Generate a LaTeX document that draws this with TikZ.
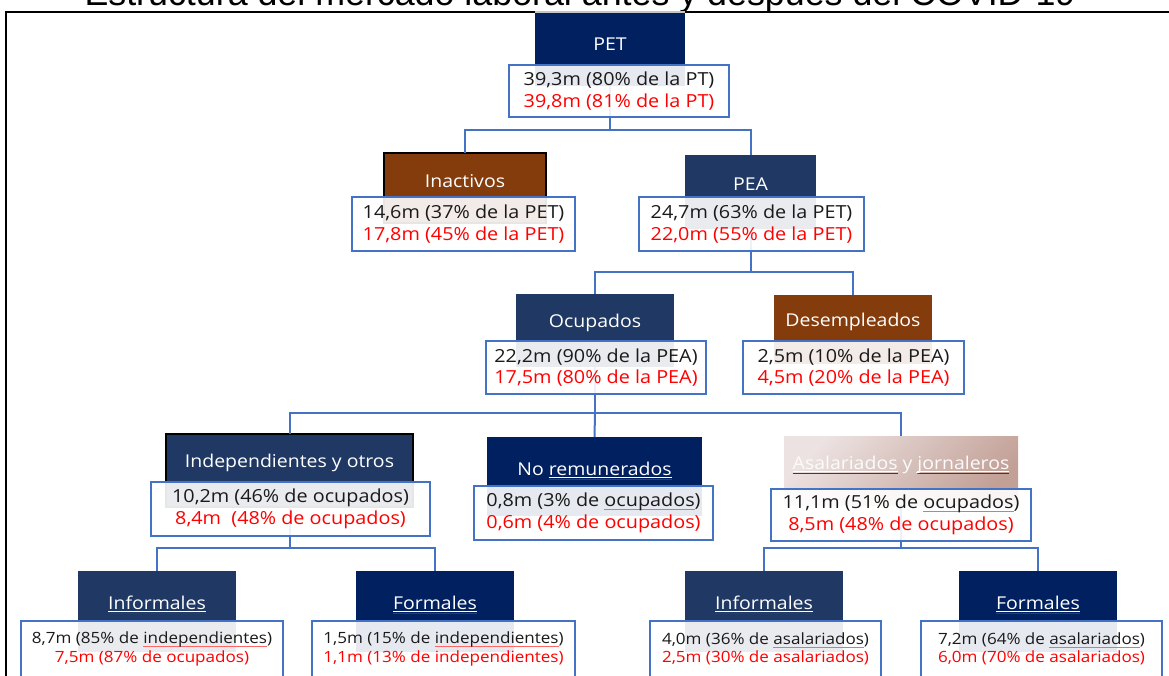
\documentclass[tikz,border=0pt]{standalone}
\usepackage{fontspec}
\setmainfont[FakeStretch=1.1]{Open Sans}
\newfontfamily\titlefont{Liberation Sans}
\definecolor{navyA}{HTML}{002060}
\definecolor{navyB}{HTML}{1F3864}
\definecolor{brownA}{HTML}{843C0C}
\definecolor{lineblue}{HTML}{4472C4}
\definecolor{txtblack}{HTML}{1A1A1A}
\definecolor{txtred}{HTML}{FF0000}
\definecolor{salA}{RGB}{236,226,225}
\definecolor{salB}{RGB}{194,160,150}
\newsavebox\ulbox
\newcommand\ulw[1]{\sbox\ulbox{#1}\rlap{\textcolor{white}{\rule[-2.4pt]{\wd\ulbox}{0.8pt}}}\rlap{\textcolor{red!80!black}{\rule[-3.8pt]{\wd\ulbox}{0.5pt}}}\usebox\ulbox}
\newcommand\ulr[1]{\sbox\ulbox{#1}\rlap{\textcolor{red!60}{\rule[-2.8pt]{\wd\ulbox}{0.5pt}}}\usebox\ulbox}
\begin{document}
\begin{tikzpicture}[x=1pt,y=-1pt,
  hdr/.style={rectangle, inner sep=0pt, outer sep=0pt},
  htxt/.style={text=white, font=\fontsize{17.7}{21}\selectfont, inner sep=0pt},
  val/.style={rectangle, draw=lineblue, line width=2pt, fill=white, fill opacity=0.9, text opacity=1, text=txtblack, align=center, inner sep=0pt, outer sep=0pt, font=\fontsize{18}{21.5}\selectfont},
  valsm/.style={val, font=\fontsize{15.5}{18.5}\selectfont},
  conn/.style={draw=lineblue, line width=2pt},
  frame/.style={draw=black, line width=2.6pt}
]
\useasboundingbox (0,0) rectangle (1169,675);
\clip (0,0) rectangle (1169,675);

% title (cut off at top, as in the reference)
\node[anchor=base, inner sep=0pt, font=\titlefont\fontsize{35.8}{40}\selectfont, text=black] (title) at (580,5) {Estructura del mercado laboral antes y después del COVID-19};

% frame
\draw[frame] (1172,12) -- (6,12) -- (6,680);

% bar coordinates
\coordinate (b1) at (0,130);
\coordinate (b2) at (0,272);
\coordinate (b3) at (0,413);
\coordinate (b4) at (0,548);

% headers
\node[hdr, fill=navyA, minimum width=150pt, minimum height=74pt] (pet) at (610,49) {};
\node[hdr, fill=brownA, draw=black, line width=2pt, minimum width=162pt, minimum height=70pt] (inac) at (465,188) {};
\node[hdr, fill=navyB, minimum width=131pt, minimum height=74pt] (pea) at (750.5,192) {};
\node[hdr, fill=navyB, minimum width=158pt, minimum height=73pt] (ocup) at (595,330.5) {};
\node[hdr, fill=brownA, minimum width=158pt, minimum height=69pt] (desemp) at (853,329.5) {};
\node[hdr, fill=navyB, draw=black, line width=2pt, minimum width=247pt, minimum height=73pt] (indep) at (289.5,470.5) {};
\node[hdr, fill=navyA, minimum width=215pt, minimum height=79pt] (norem) at (594.5,476.5) {};
\node[hdr, top color=salA, bottom color=salB, shading angle=45, minimum width=234pt, minimum height=69pt] (asal) at (901,470.5) {};
\node[hdr, fill=navyB, minimum width=158pt, minimum height=81pt] (infl) at (157,611.5) {};
\node[hdr, fill=navyA, minimum width=158pt, minimum height=81pt] (forl) at (435,611.5) {};
\node[hdr, fill=navyB, minimum width=158pt, minimum height=81pt] (infr) at (764,611.5) {};
\node[hdr, fill=navyA, minimum width=158pt, minimum height=81pt] (forr) at (1038,611.5) {};
\draw[gray!45, line width=1.2pt] (pet.north west) -- (pet.north east);

% connectors
\draw[conn] (pet.south) -- (pet |- b1) -| (inac.north);
\draw[conn] (pet |- b1) -| (pea.north);
\draw[conn] (pea.south) -- (pea |- b2) -| (ocup.north);
\draw[conn] (pea |- b2) -| (desemp.north);
\draw[conn] (ocup.south) -- (ocup |- b3) -| (indep.north);
\draw[conn] (ocup |- b3) -- (norem.north);
\draw[conn] (ocup |- b3) -| (asal.north);
\draw[conn] (indep.south) -- (indep |- b4) -| (infl.north);
\draw[conn] (indep |- b4) -| (forl.north);
\draw[conn] (asal.south) -- (asal |- b4) -| (infr.north);
\draw[conn] (asal |- b4) -| (forr.north);

% header texts
\node[htxt] (pet-t) at (610,44) {PET};
\node[htxt] (inac-t) at (465,181) {Inactivos};
\node[htxt] (pea-t) at (750.5,184) {PEA};
\node[htxt] (ocup-t) at (595,323) {Ocupados};
\node[htxt] (desemp-t) at (853,322) {Desempleados};
\node[htxt] (indep-t) at (289.5,463) {Independientes y otros};
\node[htxt] (norem-t) at (594.5,471) {No \ulw{remunerados}};
\node[htxt, text=white!97!gray] (asal-t) at (901,465) {\ulw{Asalariados} y \ulw{jornaleros}};
\node[htxt] (infl-t) at (157,605) {\ulw{Informales}};
\node[htxt] (forl-t) at (435,605) {\ulw{Formales}};
\node[htxt] (infr-t) at (764,605) {\ulw{Informales}};
\node[htxt] (forr-t) at (1038,605) {\ulw{Formales}};

% value boxes
\node[val, minimum width=220pt, minimum height=52pt] (pet-v) at (619,91) {39,3m (80\% de la PT)\\\textcolor{txtred}{39,8m (81\% de la PT)}};
\node[val, minimum width=223pt, minimum height=54pt] (inac-v) at (463.5,224) {14,6m (37\% de la PET)\\\textcolor{txtred}{17,8m (45\% de la PET)}};
\node[val, minimum width=225pt, minimum height=54pt] (pea-v) at (751.5,224) {24,7m (63\% de la PET)\\\textcolor{txtred}{22,0m (55\% de la PET)}};
\node[val, minimum width=220pt, minimum height=53pt] (ocup-v) at (596,367.5) {22,2m (90\% de la PEA)\\\textcolor{txtred}{17,5m (80\% de la PEA)}};
\node[val, minimum width=221pt, minimum height=53pt] (desemp-v) at (853.5,367.5) {2,5m (10\% de la PEA)\\\textcolor{txtred}{4,5m (20\% de la PEA)}};
\node[val, minimum width=279pt, minimum height=54pt] (indep-v) at (290.5,509) {10,2m (46\% de ocupados)\\\textcolor{txtred}{8,4m~~(48\% de ocupados)}};
\node[val, minimum width=239pt, minimum height=54pt] (norem-v) at (593.5,513) {0,8m (3\% de \ulr{ocupados})\\\textcolor{txtred}{0,6m (4\% de ocupados)}};
\node[val, minimum width=260pt, minimum height=52pt] (asal-v) at (901,515) {11,1m (51\% de \ulr{ocupados})\\\textcolor{txtred}{8,5m (48\% de ocupados)}};
\node[valsm, minimum width=262pt, minimum height=56pt] (infl-v) at (152,649) {8,7m (85\% de \ulr{independientes})\\\textcolor{txtred}{7,5m (87\% de ocupados)}};
\node[valsm, minimum width=263pt, minimum height=56pt] (forl-v) at (443.5,649) {1,5m (15\% de \ulr{independientes})\\\textcolor{txtred}{1,1m (13\% de independientes)}};
\node[valsm, minimum width=231pt, minimum height=56pt] (infr-v) at (765.5,649) {4,0m (36\% de \ulr{asalariados})\\\textcolor{txtred}{2,5m (30\% de asalariados)}};
\node[valsm, minimum width=241pt, minimum height=56pt] (forr-v) at (1041.5,649) {7,2m (64\% de \ulr{asalariados})\\\textcolor{txtred}{6,0m (70\% de asalariados)}};
\end{tikzpicture}
\end{document}
